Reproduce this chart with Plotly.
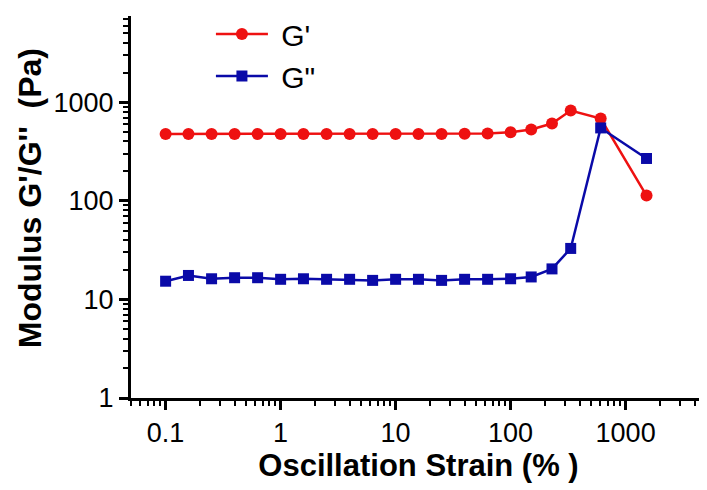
import plotly.graph_objects as go

strain = [0.1, 0.158, 0.251, 0.398, 0.631, 1.0, 1.58, 2.51, 3.98, 6.31,
          10.0, 15.8, 25.1, 39.8, 63.1, 100.0, 151.0, 229.0, 333.0, 607.0, 1520.0]
g_prime = [477, 477, 477, 477, 477, 477, 477, 477, 477, 477,
           477, 477, 477, 478, 482, 497, 529, 608, 824, 684, 113]
g_double = [15.3, 17.5, 16.2, 16.6, 16.6, 16.0, 16.2, 16.0, 16.0, 15.6,
            16.0, 16.0, 15.6, 16.0, 16.0, 16.2, 16.9, 20.4, 32.9, 549, 269]

x_ticks = [0.1, 1, 10, 100, 1000]
x_ticklabels = ["0.1", "1", "10", "100", "1000"]
y_ticks = [1, 10, 100, 1000]
y_ticklabels = ["1", "10", "100", "1000"]

# minor tick positions: 2..9 times each power of ten
minor_vals = [k * 10.0 ** e for e in range(-2, 4) for k in range(2, 10)]

RED = "#ee1111"
BLUE = "#0a0aa8"
FONT = "Arial, Liberation Sans"

fig = go.Figure()
fig.add_trace(go.Scatter(x=strain, y=g_prime, mode="lines+markers", name="\u00a0G'",
                         line=dict(color=RED, width=2.5),
                         marker=dict(symbol="circle", size=12, color=RED)))
fig.add_trace(go.Scatter(x=strain, y=g_double, mode="lines+markers", name='\u00a0G"',
                         line=dict(color=BLUE, width=2.5),
                         marker=dict(symbol="square", size=11, color=BLUE)))

axis_common = dict(
    showline=True, linecolor="black", linewidth=3, mirror=False,
    ticks="outside", ticklen=9, tickwidth=2.5, tickcolor="black",
    showgrid=False, zeroline=False, automargin=False,
    tickfont=dict(family=FONT, size=27, color="black"),
    minor=dict(tickmode="array", tickvals=minor_vals, ticks="outside",
               ticklen=5, tickwidth=2, tickcolor="black", showgrid=False),
)

fig.update_xaxes(type="log", range=[-1.30103, 3.69897],
                 tickvals=x_ticks, ticktext=x_ticklabels,
                 title=dict(text="<b>Oscillation Strain (% )</b>",
                            font=dict(family=FONT, size=31, color="black"),
                            standoff=6),
                 **axis_common)
fig.update_yaxes(type="log", range=[0, 3.875],
                 tickvals=y_ticks, ticktext=y_ticklabels,
                 title=dict(text="<b>\u00a0\u00a0Modulus G'/G''\u00a0 (Pa)</b>",
                            font=dict(family=FONT, size=32, color="black"),
                            standoff=3),
                 **axis_common)

# page body has an 8px default margin, so the figure is sized to fit the window
fig.update_layout(
    width=699, height=482,
    margin=dict(l=123, r=1, t=7, b=92),
    plot_bgcolor="white", paper_bgcolor="white",
    legend=dict(x=0.139, y=1.019, xanchor="left", yanchor="top",
                font=dict(family=FONT, size=30, color="black"),
                bgcolor="rgba(0,0,0,0)", itemwidth=52),
)

fig.write_html("out.html")
